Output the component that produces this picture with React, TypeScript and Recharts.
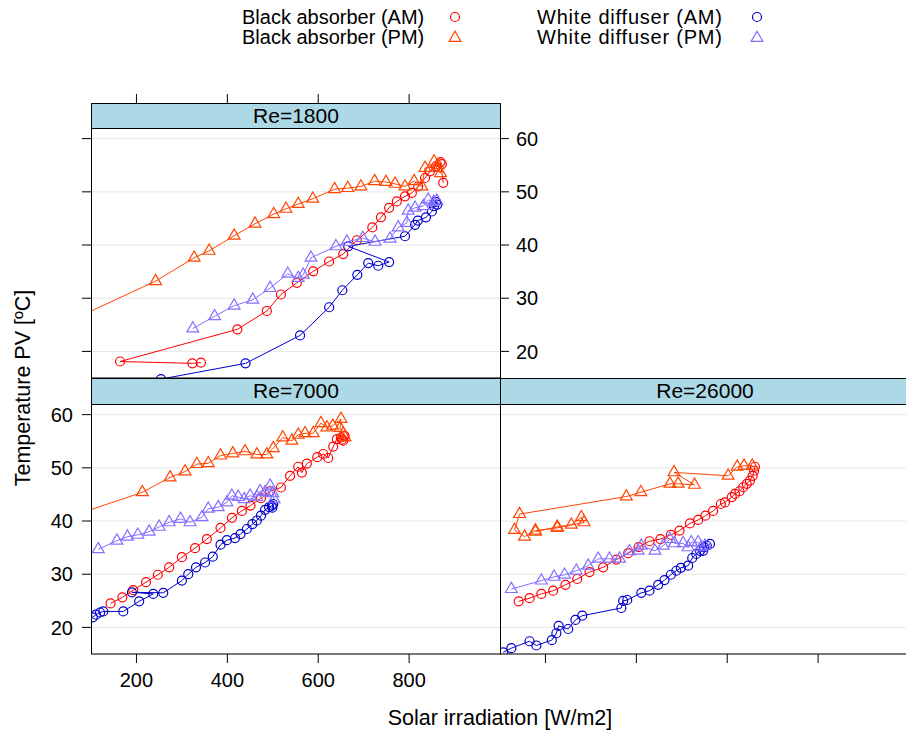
import React from 'react';
import { ScatterChart, Scatter, XAxis, YAxis, CartesianGrid } from 'recharts';

// irradiation [W/m2], temperature [ºC] pairs, in recorded order
const re1800BlackAM: [number, number][] = [
  [342, 17.9], [323, 17.75], [164, 18.1], [422, 24.15], [487, 27.6], [518, 30.7], [553, 32.9],
  [589, 35.05], [624, 36.9], [655, 38.3], [685, 40.9], [719, 43.3], [738, 45.2], [756, 47.0],
  [773, 48.2], [791, 49.15], [806, 49.8], [820, 51.0], [835, 52.6], [846, 53.85], [859, 54.8],
  [872, 55.2], [869, 55.6], [875, 51.7],
];
const re1800BlackPM: [number, number][] = [
  [855, 55.7], [861, 54.5], [869, 53.5], [864, 55.0], [835, 54.5], [828, 51.0], [811, 52.0],
  [791, 51.0], [769, 51.5], [749, 51.85], [724, 52.0], [694, 51.0], [665, 50.7], [636, 50.5],
  [588, 48.7], [556, 47.7], [529, 46.8], [502, 45.8], [461, 44.0], [415, 41.75], [360, 38.9],
  [327, 37.6], [242, 33.2], [60, 26.0],
];
const re1800WhiteAM: [number, number][] = [
  [254, 14.8], [440, 17.75], [560, 23.0], [624, 28.3], [653, 31.5], [686, 34.4], [710, 36.6],
  [732, 36.1], [756, 36.8], [666, 39.75], [791, 41.65], [813, 43.8], [819, 44.6], [837, 45.2],
  [850, 46.3], [855, 47.3], [859, 48.1], [862, 47.6],
];
const re1800WhitePM: [number, number][] = [
  [861, 48.3], [854, 48.1], [842, 48.5], [831, 47.3], [813, 47.0], [798, 46.45], [795, 44.15],
  [776, 43.3], [758, 41.2], [725, 40.6], [698, 41.3], [663, 40.6], [639, 39.75], [584, 37.6],
  [567, 34.4], [556, 33.8], [533, 34.6], [494, 31.9], [456, 29.7], [415, 28.6], [372, 26.6],
  [324, 24.3],
];

const re7000BlackAM: [number, number][] = [
  [143, 24.5], [169, 25.65], [193, 27.0], [221, 28.5], [247, 29.9], [272, 31.3], [300, 33.2],
  [329, 34.9], [355, 36.6], [385, 38.7], [410, 40.6], [432, 41.9], [451, 42.9], [474, 44.3],
  [494, 45.6], [518, 46.3], [538, 48.5], [556, 50.2], [564, 49.1], [575, 50.8], [598, 52.0],
  [611, 52.6], [622, 51.85], [633, 54.0], [641, 55.4], [650, 55.7], [655, 55.1], [658, 56.0],
  [652, 55.3],
];
const re7000BlackPM: [number, number][] = [
  [659, 55.7], [655, 56.4], [648, 57.5], [650, 59.2], [632, 57.9], [619, 57.6], [606, 58.4],
  [589, 56.5], [571, 56.5], [556, 56.2], [542, 55.1], [522, 55.7], [501, 53.7], [487, 52.5],
  [465, 52.5], [439, 53.1], [412, 52.7], [385, 52.3], [358, 50.85], [333, 50.7], [307, 49.3],
  [274, 48.2], [213, 45.4], [60, 41.0],
];
const re7000WhiteAM: [number, number][] = [
  [104, 21.9], [111, 22.4], [120, 22.8], [127, 23.0], [171, 23.0], [206, 24.9], [237, 26.3],
  [190, 26.6], [259, 26.5], [300, 28.8], [314, 30.0], [331, 31.3], [351, 32.2], [368, 33.3],
  [385, 35.55], [399, 36.4], [417, 36.8], [429, 37.55], [443, 38.5], [455, 39.4], [465, 40.1],
  [474, 41.0], [483, 42.1], [492, 42.6], [498, 42.9], [501, 43.2], [499, 42.5],
];
const re7000WhitePM: [number, number][] = [
  [503, 44.1], [500, 45.2], [494, 46.65], [483, 45.4], [472, 45.6], [465, 44.5], [450, 44.75],
  [437, 44.1], [424, 44.5], [410, 44.75], [399, 43.5], [380, 42.6], [358, 42.3], [344, 40.7],
  [318, 39.75], [297, 40.4], [272, 39.75], [250, 38.9], [228, 38.0], [203, 37.4], [180, 37.05],
  [157, 36.3], [116, 34.7],
];

const re26000BlackAM: [number, number][] = [
  [141, 24.9], [165, 25.5], [191, 26.3], [217, 26.9], [244, 28.0], [270, 29.1], [297, 30.4],
  [327, 31.3], [356, 32.75], [382, 33.95], [405, 35.1], [429, 36.2], [453, 36.6], [476, 37.4],
  [495, 38.2], [518, 39.55], [536, 40.2], [552, 41.0], [569, 41.9], [586, 43.2], [595, 43.5],
  [610, 44.5], [617, 45.1], [627, 45.6], [635, 46.35], [643, 47.0], [650, 47.6], [656, 48.5],
  [659, 49.45], [661, 50.2],
];
const re26000BlackPM: [number, number][] = [
  [655, 50.4], [637, 50.4], [622, 50.2], [602, 48.5], [483, 49.15], [528, 46.8], [492, 47.0],
  [474, 47.0], [410, 45.4], [378, 44.6], [143, 41.3], [132, 38.3], [154, 37.05], [178, 38.2],
  [226, 38.7], [285, 39.75], [279, 40.7], [257, 39.3], [226, 38.9], [178, 38.0],
];
const re26000WhiteAM: [number, number][] = [
  [107, 15.3], [125, 16.1], [165, 17.4], [180, 16.6], [214, 17.6], [224, 18.9], [229, 20.3],
  [250, 19.7], [266, 21.4], [281, 22.2], [367, 23.65], [371, 25.0], [380, 25.15], [411, 26.5],
  [429, 26.9], [448, 28.0], [462, 28.9], [476, 29.9], [488, 30.65], [498, 31.2], [514, 31.6],
  [523, 33.05], [532, 33.8], [540, 34.4], [547, 34.4], [549, 35.05], [555, 35.35], [562, 35.7],
];
const re26000WhitePM: [number, number][] = [
  [551, 35.35], [543, 35.05], [536, 36.0], [521, 36.0], [514, 35.05], [503, 35.8], [484, 35.8],
  [474, 36.6], [459, 35.35], [441, 34.4], [411, 35.35], [404, 34.4], [385, 34.3], [363, 32.9],
  [341, 32.9], [316, 32.9], [294, 31.6], [268, 30.65], [242, 29.9], [219, 29.5], [191, 28.8],
  [125, 27.2],
];

const X_TICKS = [200, 400, 600, 800];
const Y_TICKS = [20, 30, 40, 50, 60];
const X_DOMAIN: [number, number] = [100, 1000];
const Y_DOMAIN: [number, number] = [15, 62];

const SERIES_STYLE = [
  { name: 'Black absorber (AM)', color: '#ff0000', kind: 'circle' },
  { name: 'Black absorber (PM)', color: '#ff4500', kind: 'triangle' },
  { name: 'White diffuser (AM)', color: '#0000cd', kind: 'circle' },
  { name: 'White diffuser (PM)', color: '#8470ff', kind: 'triangle' },
];

const FONT = '"Liberation Sans", Arial, Helvetica, sans-serif';

const triPath = (cx: number, cy: number, r = 6.8) =>
  `M${cx},${cy - r}L${cx + r * 0.866},${cy + r / 2}L${cx - r * 0.866},${cy + r / 2}Z`;

const Marker = ({ kind, color, cx, cy }: { kind: string; color: string; cx: number; cy: number }) =>
  kind === 'circle'
    ? <circle cx={cx} cy={cy} r={4.5} fill="none" stroke={color} strokeWidth={1.2} />
    : <path d={triPath(cx, cy)} fill="none" stroke={color} strokeWidth={1.2} />;

const toPoints = (arr: [number, number][]) => arr.map(([x, y]) => ({ x, y }));

const renderSeries = (sets: [number, number][][], xAxisId: string, yAxisId: string) =>
  sets.map((set, i) => {
    const st = SERIES_STYLE[i];
    return (
      <Scatter
        key={st.name}
        name={st.name}
        data={toPoints(set)}
        xAxisId={xAxisId}
        yAxisId={yAxisId}
        fill={st.color}
        line={{ stroke: st.color, strokeWidth: 1 }}
        lineType="joint"
        shape={(p: any) => <Marker kind={st.kind} color={st.color} cx={p.cx} cy={p.cy} />}
        isAnimationActive={false}
      />
    );
  });

const tickText = { fill: '#000', fontSize: 20, fontFamily: FONT };
const blank = () => '';

const TopTick = (p: any) => (
  <line x1={p.x} x2={p.x} y1={103} y2={94} stroke="#000" strokeWidth={1} />
);

const chartStyle: React.CSSProperties = { position: 'absolute', left: 0, top: 0 };

export default function App() {
  return (
    <div style={{ position: 'absolute', left: 0, top: 0, width: 906, height: 731, overflow: 'hidden', background: '#fff', fontFamily: FONT }}>
      {/* Re=1800, top left */}
      <ScatterChart width={906} height={731} style={chartStyle}
        margin={{ top: 118, left: 71, right: 361, bottom: 353 }}>
        <CartesianGrid xAxisId="t" yAxisId="l" vertical={false} stroke="#e6e6e6" />
        <XAxis xAxisId="t" orientation="top" dataKey="x" type="number" domain={X_DOMAIN} ticks={X_TICKS}
          allowDataOverflow height={10} axisLine={false} tickLine={false} tick={TopTick} />
        <YAxis yAxisId="l" dataKey="y" type="number" domain={Y_DOMAIN} ticks={Y_TICKS} allowDataOverflow
          width={20} axisLine={false} tickSize={9} tickLine={{ stroke: '#000' }} tickFormatter={blank} />
        <YAxis yAxisId="r" orientation="right" dataKey="y" type="number" domain={Y_DOMAIN} ticks={Y_TICKS}
          allowDataOverflow width={45} axisLine={false} tickSize={9} tickMargin={7}
          tickLine={{ stroke: '#000' }} tick={tickText} />
        {renderSeries([re1800BlackAM, re1800BlackPM, re1800WhiteAM, re1800WhitePM], 't', 'l')}
      </ScatterChart>

      {/* Re=7000, bottom left */}
      <ScatterChart width={906} height={731} style={chartStyle}
        margin={{ top: 404, left: 31, right: 406, bottom: 37 }}>
        <CartesianGrid xAxisId="b" yAxisId="l" vertical={false} stroke="#e6e6e6" />
        <XAxis xAxisId="b" dataKey="x" type="number" domain={X_DOMAIN} ticks={X_TICKS} allowDataOverflow
          height={40} axisLine={false} tickSize={9} tickMargin={10} tickLine={{ stroke: '#000' }} tick={tickText} />
        <YAxis yAxisId="l" dataKey="y" type="number" domain={Y_DOMAIN} ticks={Y_TICKS} allowDataOverflow
          width={60} axisLine={false} tickSize={9} tickMargin={9} tickLine={{ stroke: '#000' }} tick={tickText} />
        {renderSeries([re7000BlackAM, re7000BlackPM, re7000WhiteAM, re7000WhitePM], 'b', 'l')}
      </ScatterChart>

      {/* Re=26000, bottom right */}
      <ScatterChart width={920} height={731} style={chartStyle}
        margin={{ top: 404, left: 500, right: 11, bottom: 37 }}>
        <CartesianGrid xAxisId="b" yAxisId="l" vertical={false} stroke="#e6e6e6" />
        <XAxis xAxisId="b" dataKey="x" type="number" domain={X_DOMAIN} ticks={X_TICKS} allowDataOverflow
          height={40} axisLine={false} tickSize={9} tickLine={{ stroke: '#000' }} tickFormatter={blank} />
        <YAxis yAxisId="l" dataKey="y" type="number" domain={Y_DOMAIN} ticks={Y_TICKS} allowDataOverflow hide />
        {renderSeries([re26000BlackAM, re26000BlackPM, re26000WhiteAM, re26000WhitePM], 'b', 'l')}
      </ScatterChart>

      {/* panel frames, strips, titles, key */}
      <svg width={906} height={731} style={{ position: 'absolute', left: 0, top: 0, pointerEvents: 'none' }}>
        <g fill="none" stroke="#000" strokeWidth={1}>
          <rect x={91.5} y={128.5} width={409} height={249.5} />
          <rect x={91.5} y={404.5} width={409} height={249.5} />
          <rect x={500.5} y={404.5} width={410} height={249.5} />
        </g>
        <g stroke="#000" strokeWidth={1} fill="#add8e6">
          <rect x={91.5} y={103.5} width={409} height={25} />
          <rect x={91.5} y={378.5} width={409} height={26} />
          <rect x={500.5} y={378.5} width={410} height={26} />
        </g>
        <g fontSize={21} fill="#000" textAnchor="middle">
          <text x={296} y={123}>Re=1800</text>
          <text x={296} y={398}>Re=7000</text>
          <text x={705} y={398}>Re=26000</text>
        </g>
        <text x={500} y={725} fontSize={21.5} textAnchor="middle" fill="#000">Solar irradiation [W/m2]</text>
        <text x={30} y={388} fontSize={21.5} textAnchor="middle" fill="#000" transform="rotate(-90 30 388)">
          Temperature PV [ºC]
        </text>
        <g fontSize={20} fill="#000">
          <text x={242} y={24}>{SERIES_STYLE[0].name}</text>
          <text x={242} y={44}>{SERIES_STYLE[1].name}</text>
          <text x={537} y={24} textLength={185} lengthAdjust="spacing">{SERIES_STYLE[2].name}</text>
          <text x={537} y={44} textLength={185} lengthAdjust="spacing">{SERIES_STYLE[3].name}</text>
        </g>
        <Marker kind="circle" color={SERIES_STYLE[0].color} cx={455} cy={17} />
        <Marker kind="triangle" color={SERIES_STYLE[1].color} cx={455} cy={38} />
        <Marker kind="circle" color={SERIES_STYLE[2].color} cx={757} cy={17} />
        <Marker kind="triangle" color={SERIES_STYLE[3].color} cx={757} cy={38} />
      </svg>
    </div>
  );
}
